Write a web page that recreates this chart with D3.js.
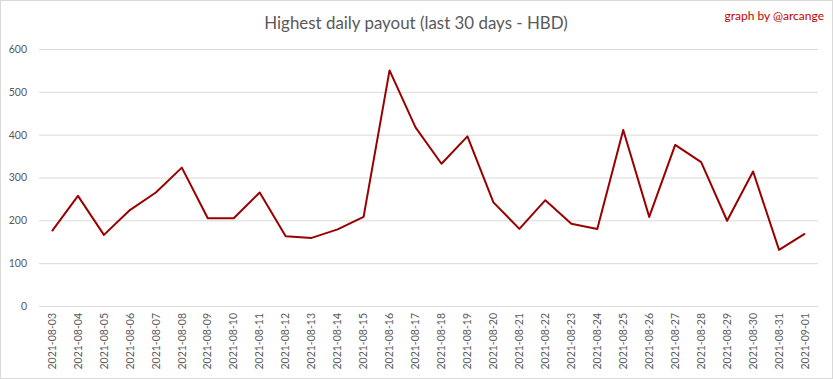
<!DOCTYPE html>
<html><head><meta charset="utf-8">
<script src="https://cdn.jsdelivr.net/npm/d3@7"></script>
<style>body{margin:0;background:#fff;}svg{display:block;}</style>
</head><body>
<svg id="chart" width="833" height="379"></svg>
<script>
const dates = ["2021-08-03","2021-08-04","2021-08-05","2021-08-06","2021-08-07","2021-08-08","2021-08-09","2021-08-10","2021-08-11","2021-08-12","2021-08-13","2021-08-14","2021-08-15","2021-08-16","2021-08-17","2021-08-18","2021-08-19","2021-08-20","2021-08-21","2021-08-22","2021-08-23","2021-08-24","2021-08-25","2021-08-26","2021-08-27","2021-08-28","2021-08-29","2021-08-30","2021-08-31","2021-09-01"];
const payouts = [175,257,166,224,265,323,205,205,265,163,159,179,208,550,417,332,396,242,180,247,192,180,411,208,376,336,199,314,131,169];
const yTicks = [0,100,200,300,400,500,600];
const titleText = "Highest daily payout (last 30 days - HBD)";
const creditText = "graph by @arcange";

const svg = d3.select("#chart");
const font = "Lato,'Open Sans',sans-serif";
svg.append("rect").attr("x",0.5).attr("y",0.5).attr("width",832).attr("height",378)
  .attr("fill","#fff").attr("stroke","#d9d9d9");

const x = d3.scaleBand().domain(dates).range([39,818]);
const y = d3.scaleLinear().domain([0,600]).range([306,49]);

const gy = svg.append("g").attr("transform","translate(39,0)")
  .call(d3.axisLeft(y).tickValues(yTicks).tickSize(-779).tickPadding(12));
gy.select(".domain").remove();
gy.selectAll("line").attr("stroke","#d9d9d9");
gy.selectAll("text").attr("fill","#595959").style("font-family",font).style("font-size","10.5px");

const gx = svg.append("g").attr("transform","translate(0,306)")
  .call(d3.axisBottom(x).tickSize(0).tickPadding(0));
gx.select(".domain").remove();
gx.selectAll("text").attr("fill","#595959").style("font-family",font).style("font-size","10.5px")
  .attr("transform","rotate(-90)").attr("text-anchor","end").attr("dx","-7px").attr("dy","0.35em").attr("y",0).attr("x",0);
gx.selectAll(".tick").attr("transform", d => `translate(${x(d)+x.bandwidth()/2},0)`);

const line = d3.line().x((d,i)=>x(dates[i])+x.bandwidth()/2).y(d=>y(d));
svg.append("path").datum(payouts).attr("d",line).attr("fill","none")
  .attr("stroke","#990000").attr("stroke-width",2).attr("stroke-linejoin","round");

svg.append("text").attr("x",416).attr("y",28.5).attr("text-anchor","middle")
  .attr("fill","#595959").style("font-family",font).style("font-size","16.9px").text(titleText);
svg.append("text").attr("x",824).attr("y",20).attr("text-anchor","end")
  .attr("fill","#c00000").style("font-family",font).style("font-size","12px").text(creditText);
</script>
</body></html>
